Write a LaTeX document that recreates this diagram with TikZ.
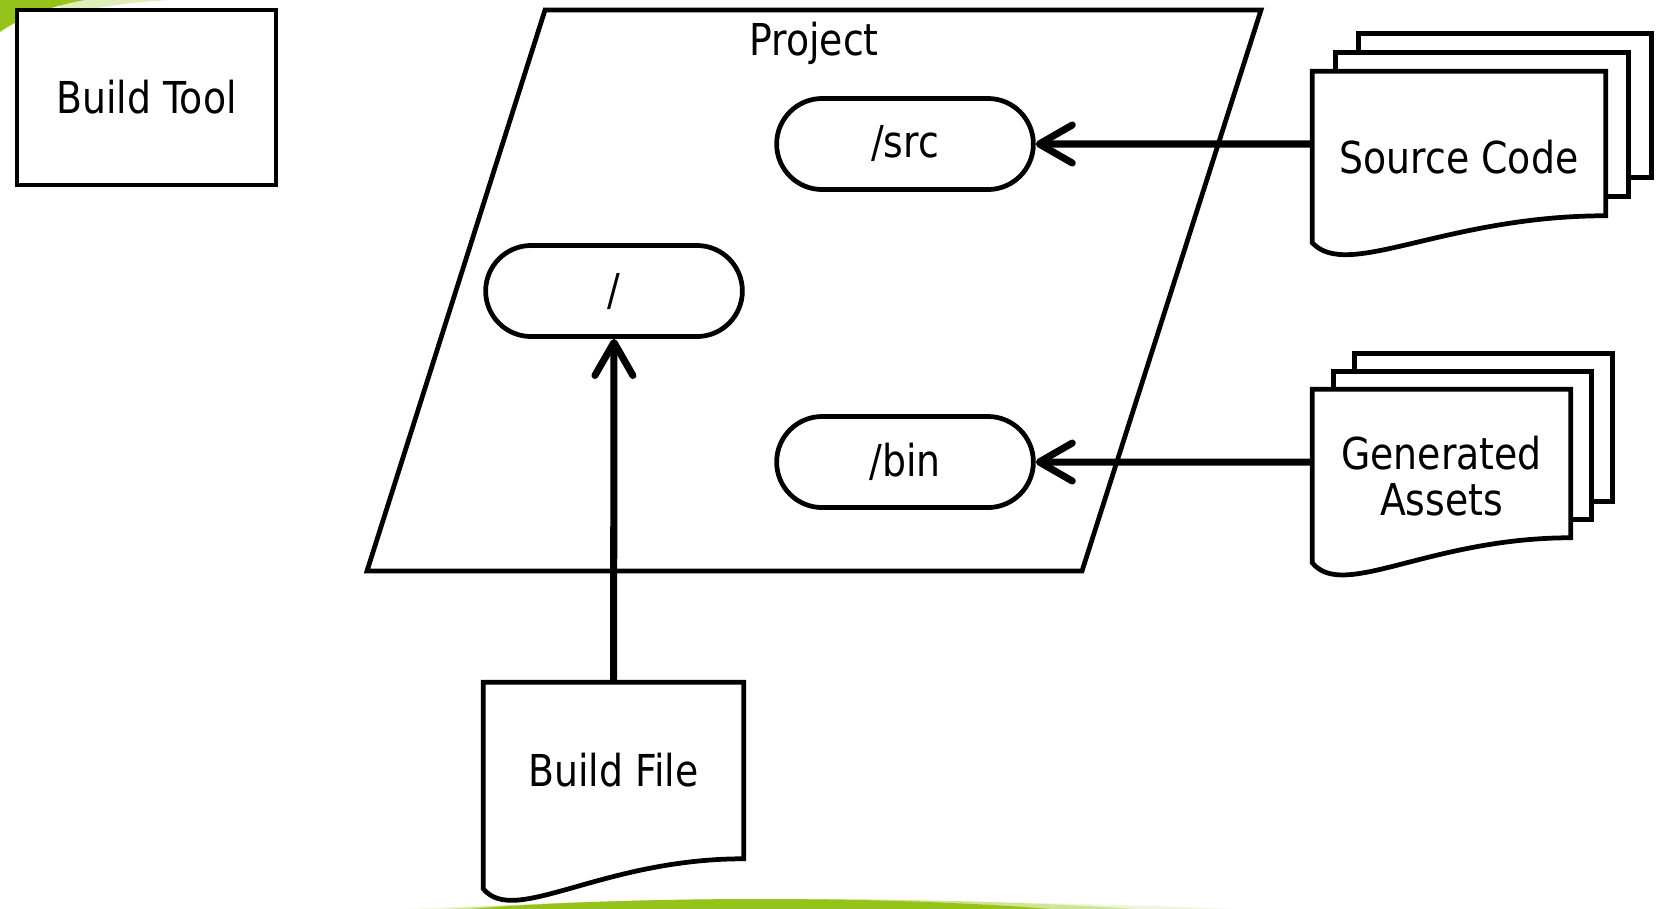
\documentclass[tikz,border=0pt]{standalone}
\usepackage{fontspec}
\setmainfont{DejaVu Sans}[FakeStretch=0.86]
\usetikzlibrary{shapes.misc,arrows.meta,calc}
\definecolor{leafgreen}{RGB}{150,195,25}

\pgfdeclarelayer{back}
\pgfsetlayers{back,main}

\tikzset{
  box/.style={draw,line width=1.35pt,fill=white,minimum width=2.59cm,minimum height=1.75cm},
  folder/.style={rounded rectangle,draw,line width=1.35pt,fill=white,minimum width=2.8cm,minimum height=0.91cm},
  docnode/.style={inner sep=0pt,align=center},
  doc/.style={draw,line width=1.35pt,fill=white},
  flow/.style={line width=2pt,-{Straight Barb[length=3.3mm,width=3.8mm,round]}},
}

% outline of a document: node, rise of right corner, drop of left corner
\newcommand\docoutline[3]{%
  \begin{pgfonlayer}{back}
  \draw[doc] ($(#1.south east)+(0,#2)$) -- (#1.north east) -- (#1.north west)
    -- ($(#1.south west)+(0,#3)$)
    .. controls ($(#1.south west)!0.12!(#1.south east)+(0,{#3+38})$)
       and ($(#1.south west)!0.45!(#1.south east)+(0,#2)$)
    .. ($(#1.south east)+(0,#2)$) -- cycle;
  \end{pgfonlayer}}

% the two sheets behind a document: node, dx, dy, rise of right corner
\newcommand\docstack[4]{%
  \begin{pgfonlayer}{back}
  \foreach \k in {2,1}
    \draw[doc] ($(#1.north west)+({\k*(#2)},{\k*(#3)})$) rectangle ($(#1.south east)+({\k*(#2)},{\k*(#3)+(#4)})$);
  \end{pgfonlayer}}

\begin{document}
\begin{tikzpicture}[x=0.01cm,y=-0.01cm,font=\fontsize{12.5pt}{13.1pt}\selectfont]
  \useasboundingbox (0,0) rectangle (1671,908);

  % green swooshes
  \begin{pgfonlayer}{back}
  \begin{scope}
    \clip (0,0) rectangle (1671,908);
    \fill[leafgreen!30] (60,0) -- (170,0) .. controls (120,3) and (90,8) .. (60,18) -- cycle;
    \fill[leafgreen] (0,0) -- (85,0) .. controls (50,6) and (20,18) .. (0,32) -- cycle;
    \fill[leafgreen!15] (820,935) ellipse (640 and 34);
    \fill[leafgreen!45] (790,935) ellipse (500 and 36);
    \fill[leafgreen] (760,935) ellipse (420 and 36);
  \end{scope}
  \end{pgfonlayer}

  \node[box] (tool) at (146.5,97.5) {Build Tool};

  % project folder
  \draw[line width=1.35pt,fill=white] (545,10) -- (1261,10) -- (1082,571) -- (367,571) -- cycle;
  \node (project) at (814,43) {Project};

  \node[folder] (src) at (905,144) {/src};
  \node[folder] (root) at (614,291) {/};
  \node[folder] (bin) at (905,462) {/bin};

  % documents
  \node[docnode,minimum width=2.92cm,minimum height=1.70cm] (code) at (1459,157) {Source Code};
  \docstack{code}{23}{-19}{-27}
  \docoutline{code}{-27}{0}

  \node[docnode,minimum width=2.57cm,minimum height=1.72cm] (assets) at (1441.5,476) {Generated\\Assets};
  \docstack{assets}{21}{-18}{-25}
  \docoutline{assets}{-25}{0}

  \node[docnode,minimum width=2.59cm,minimum height=1.75cm] (buildfile) at (613.5,770.5) {Build File};
  \docoutline{buildfile}{0}{30}

  \draw[flow] (code.west |- src) -- (src);
  \draw[flow] (assets.west |- bin) -- (bin);
  \draw[flow] (buildfile) -- (root);
\end{tikzpicture}
\end{document}
